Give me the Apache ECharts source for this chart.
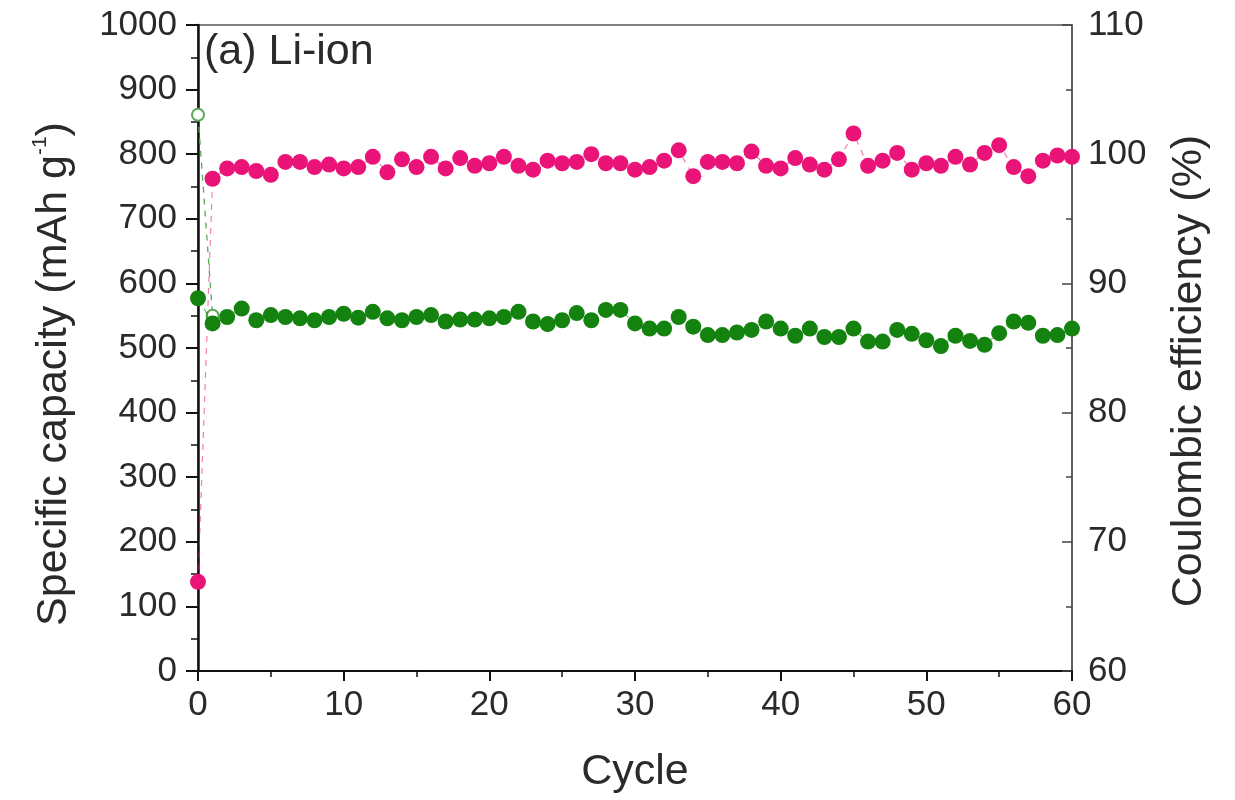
<!DOCTYPE html>
<html>
<head>
<meta charset="utf-8">
<script src="https://cdn.jsdelivr.net/npm/echarts@6/dist/echarts.min.js"></script>
<style>
html,body{margin:0;padding:0;background:#fff;}
#chart{width:1235px;height:800px;}
</style>
</head>
<body>
<div id="chart"></div>
<script>
// ---- data ----
const cycles = [0,1,2,3,4,5,6,7,8,9,10,11,12,13,14,15,16,17,18,19,20,21,22,23,24,25,26,27,28,29,30,
  31,32,33,34,35,36,37,38,39,40,41,42,43,44,45,46,47,48,49,50,51,52,53,54,55,56,57,58,59,60];
// charge capacity (filled green), mAh g-1
const chargeCapacity = [577,538,548,561,543,551,548,546,543,548,553,547,556,546,543,548,551,541,544,544,546,
  548,556,541,537,543,554,543,559,559,538,530,530,548,533,520,520,524,528,541,530,
  519,530,517,517,530,510,510,528,522,512,503,519,511,505,523,541,539,519,520,530];
// discharge capacity (hollow green), visible only for first cycles
const dischargeCycles = [0,1];
const dischargeCapacity = [861,550];
// coulombic efficiency (pink), %
const coulombicEff = [66.9,98.1,98.9,99.0,98.7,98.4,99.4,99.4,99.0,99.2,98.9,99.0,99.8,98.6,99.6,99.0,99.8,98.9,99.7,99.1,99.3,
  99.8,99.1,98.8,99.5,99.3,99.4,100.0,99.3,99.3,98.8,99.0,99.5,100.3,98.3,99.4,99.4,99.3,100.2,99.1,98.9,
  99.7,99.2,98.8,99.6,101.6,99.1,99.5,100.1,98.8,99.3,99.1,99.8,99.2,100.1,100.7,99.0,98.3,99.5,99.9,99.8];

const pink = '#ea1479';
const green = '#13820f';
const TXT = '#2a2a2a';
const FONT = '"Liberation Sans", Arial, sans-serif';

const chart = echarts.init(document.getElementById('chart'), null, {renderer:'canvas'});

const pair = (xs, ys) => xs.map((x, i) => [x, ys[i]]);
const plain = v => String(v);

chart.setOption({
  animation: false,
  backgroundColor: '#fff',
  textStyle: {fontFamily: FONT},
  grid: {left: 198, right: 163, top: 25, bottom: 129, show: true, borderColor: '#555', borderWidth: 1.5, containLabel: false},
  xAxis: {
    type: 'value', min: 0, max: 60, interval: 10,
    name: 'Cycle', nameLocation: 'middle', nameGap: 80,
    nameTextStyle: {fontSize: 43, color: TXT, fontFamily: FONT},
    axisLine: {show: true, onZero: false, lineStyle: {color: '#111', width: 2.2}},
    axisTick: {show: true, inside: false, length: 10, lineStyle: {color: '#111', width: 2}},
    minorTick: {show: true, splitNumber: 2, length: 6, lineStyle: {color: '#111', width: 1.5}},
    axisLabel: {fontSize: 35, color: TXT, margin: 17, fontFamily: FONT, formatter: plain},
    splitLine: {show: false}
  },
  yAxis: [{
    type: 'value', min: 0, max: 1000, interval: 100, position: 'left',
    name: '{a|Specific capacity (mAh g}{s|-1}{a|)}', nameLocation: 'middle', nameGap: 120, nameRotate: 90,
    nameTextStyle: {color: TXT, fontFamily: FONT, padding: [0, 52, 0, 0],
      rich: {a: {fontSize: 43, color: TXT, fontFamily: FONT, lineHeight: 48},
             s: {fontSize: 21, color: TXT, fontFamily: FONT, verticalAlign: 'top', lineHeight: 28}}},
    axisLine: {show: true, onZero: false, lineStyle: {color: '#111', width: 2.5}},
    axisTick: {show: true, inside: false, length: 12, lineStyle: {color: '#111', width: 2}},
    minorTick: {show: true, splitNumber: 2, length: 7, lineStyle: {color: '#111', width: 1.5}},
    axisLabel: {fontSize: 35, color: TXT, margin: 21, fontFamily: FONT, formatter: plain},
    splitLine: {show: false}
  }, {
    type: 'value', min: 60, max: 110, interval: 10, position: 'right',
    name: 'Coulombic efficiency (%)', nameLocation: 'middle', nameGap: 96, nameRotate: 90,
    nameTextStyle: {fontSize: 43, color: TXT, fontFamily: FONT, padding: [0, 46, 0, 0]},
    axisLine: {show: true, onZero: false, lineStyle: {color: '#555', width: 1.5}},
    axisTick: {show: true, inside: true, length: 10, lineStyle: {color: '#444', width: 1.5}},
    minorTick: {show: true, splitNumber: 2, length: 6, lineStyle: {color: '#444', width: 1.5}},
    axisLabel: {fontSize: 35, color: TXT, margin: 16, fontFamily: FONT, formatter: plain},
    splitLine: {show: false}
  }],
  graphic: [{
    type: 'text', left: 204, top: 31,
    style: {text: '(a) Li-ion', fontSize: 43, fill: TXT, fontFamily: FONT}
  }],
  series: [{
    name: 'Discharge', type: 'line', yAxisIndex: 0, clip: false,
    data: pair(dischargeCycles, dischargeCapacity),
    symbol: 'emptyCircle', symbolSize: 12,
    itemStyle: {color: '#5aa856', borderWidth: 1.3},
    lineStyle: {color: '#5aa856', width: 1.3, type: [6, 6]},
    z: 2
  }, {
    name: 'Coulombic efficiency', type: 'line', yAxisIndex: 1, clip: false,
    data: pair(cycles, coulombicEff),
    symbol: 'circle', symbolSize: 16,
    itemStyle: {color: pink},
    lineStyle: {color: pink, width: 1.2, type: [6, 6], opacity: 0.55},
    z: 3
  }, {
    name: 'Charge', type: 'line', yAxisIndex: 0, clip: false,
    data: pair(cycles, chargeCapacity),
    symbol: 'circle', symbolSize: 16,
    itemStyle: {color: green},
    lineStyle: {color: green, width: 1.2, type: [6, 6], opacity: 0.55},
    z: 4
  }]
});
</script>
</body>
</html>
